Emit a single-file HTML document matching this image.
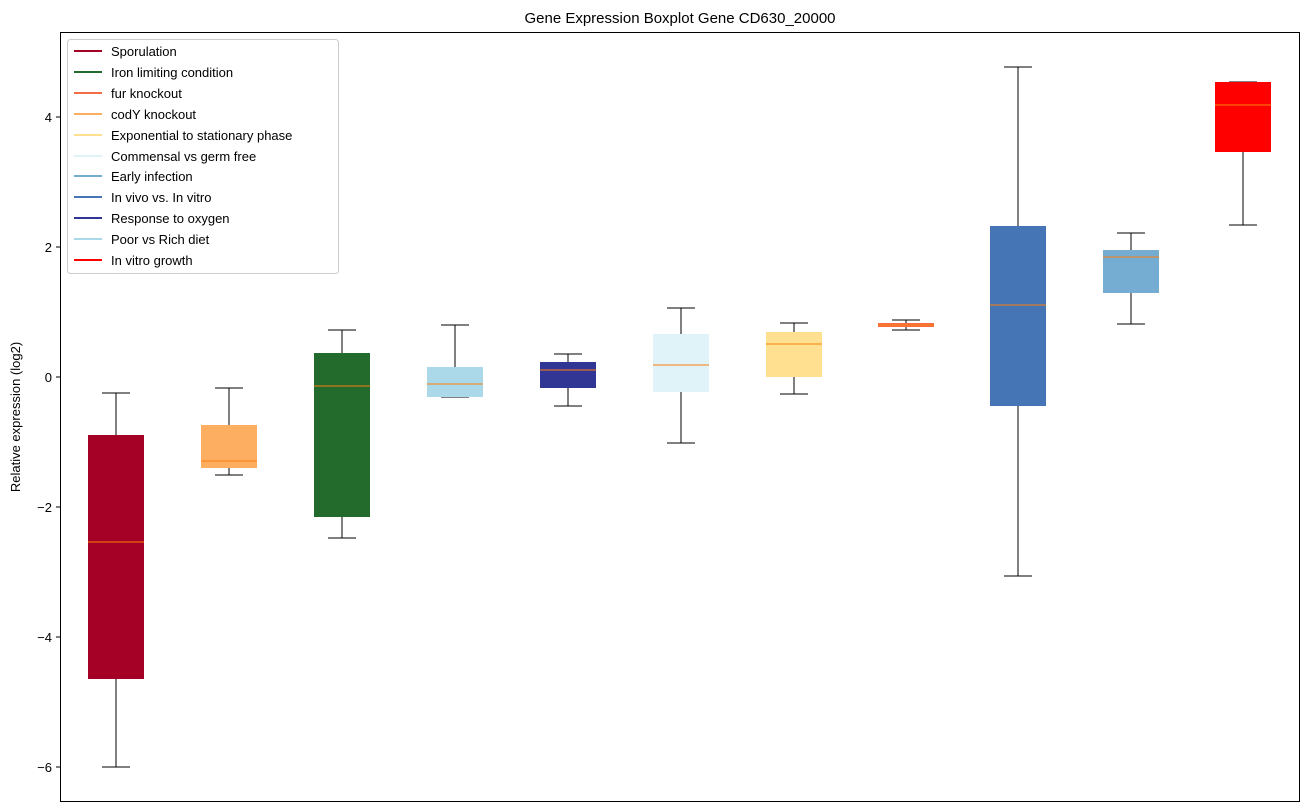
<!DOCTYPE html>
<html><head><meta charset="utf-8"><style>
body{margin:0;background:#fff;}
svg{display:block;font-family:"Liberation Sans","DejaVu Sans",sans-serif;}
</style></head><body>
<svg width="1309" height="812" viewBox="0 0 1309 812" xmlns="http://www.w3.org/2000/svg">
<rect width="1309" height="812" fill="#fff"/>
<text x="680" y="23" font-size="15" text-anchor="middle">Gene Expression Boxplot Gene CD630_20000</text>
<g stroke="#000" stroke-width="1" fill="none">
<!-- whiskers drawn per box -->
<g id="b">
<line x1="116" y1="393" x2="116" y2="435"/><line x1="116" y1="679" x2="116" y2="767"/><line x1="102" y1="393" x2="130" y2="393"/><line x1="102" y1="767" x2="130" y2="767"/>
<line x1="229" y1="388" x2="229" y2="425"/><line x1="229" y1="468" x2="229" y2="475"/><line x1="215" y1="388" x2="243" y2="388"/><line x1="215" y1="475" x2="243" y2="475"/>
<line x1="342" y1="330" x2="342" y2="353"/><line x1="342" y1="517" x2="342" y2="538"/><line x1="328" y1="330" x2="356" y2="330"/><line x1="328" y1="538" x2="356" y2="538"/>
<line x1="455" y1="325" x2="455" y2="367"/><line x1="441" y1="325" x2="469" y2="325"/><line x1="441" y1="397" x2="469" y2="397"/>
<line x1="568" y1="354" x2="568" y2="362"/><line x1="568" y1="388" x2="568" y2="406"/><line x1="554" y1="354" x2="582" y2="354"/><line x1="554" y1="406" x2="582" y2="406"/>
<line x1="681" y1="308" x2="681" y2="334"/><line x1="681" y1="392" x2="681" y2="443"/><line x1="667" y1="308" x2="695" y2="308"/><line x1="667" y1="443" x2="695" y2="443"/>
<line x1="794" y1="323" x2="794" y2="332"/><line x1="794" y1="377" x2="794" y2="394"/><line x1="780" y1="323" x2="808" y2="323"/><line x1="780" y1="394" x2="808" y2="394"/>
<line x1="906" y1="320" x2="906" y2="323"/><line x1="906" y1="327" x2="906" y2="330"/><line x1="892" y1="320" x2="920" y2="320"/><line x1="892" y1="330" x2="920" y2="330"/>
<line x1="1018" y1="67" x2="1018" y2="226"/><line x1="1018" y1="406" x2="1018" y2="576"/><line x1="1004" y1="67" x2="1032" y2="67"/><line x1="1004" y1="576" x2="1032" y2="576"/>
<line x1="1131" y1="233" x2="1131" y2="250"/><line x1="1131" y1="293" x2="1131" y2="324"/><line x1="1117" y1="233" x2="1145" y2="233"/><line x1="1117" y1="324" x2="1145" y2="324"/>
<line x1="1243" y1="152" x2="1243" y2="225"/><line x1="1229" y1="82" x2="1257" y2="82"/><line x1="1229" y1="225" x2="1257" y2="225"/>
</g>
</g>
<g>
<rect x="88" y="435" width="56" height="244" fill="#a50026"/>
<rect x="201" y="425" width="56" height="43" fill="#fdae61"/>
<rect x="314" y="353" width="56" height="164" fill="#226b2d"/>
<rect x="427" y="367" width="56" height="30" fill="#abd9e9"/>
<rect x="540" y="362" width="56" height="26" fill="#313695"/>
<rect x="653" y="334" width="56" height="58" fill="#e0f3f8"/>
<rect x="766" y="332" width="56" height="45" fill="#fee090"/>
<rect x="878" y="323" width="56" height="4" fill="#f46d43"/>
<rect x="990" y="226" width="56" height="180" fill="#4575b4"/>
<rect x="1103" y="250" width="56" height="43" fill="#74add1"/>
<rect x="1215" y="82" width="56" height="70" fill="#ff0000"/>
</g>
<g stroke="#ff7f0e" stroke-width="1">
<line x1="88" y1="542" x2="144" y2="542"/><line x1="201" y1="461" x2="257" y2="461"/>
<line x1="314" y1="386" x2="370" y2="386"/><line x1="427" y1="384" x2="483" y2="384"/>
<line x1="540" y1="370" x2="596" y2="370"/><line x1="653" y1="365" x2="709" y2="365"/>
<line x1="766" y1="344" x2="822" y2="344"/><line x1="878" y1="325" x2="934" y2="325"/>
<line x1="990" y1="305" x2="1046" y2="305"/><line x1="1103" y1="257" x2="1159" y2="257"/>
<line x1="1215" y1="105" x2="1271" y2="105"/>
</g>
<rect x="60.5" y="32.5" width="1239" height="769" fill="none" stroke="#000" stroke-width="1"/>
<g font-size="13" text-anchor="end" stroke="none">
<line x1="56" y1="117" x2="60" y2="117" stroke="#000"/><text x="52" y="122">4</text>
<line x1="56" y1="247" x2="60" y2="247" stroke="#000"/><text x="52" y="252">2</text>
<line x1="56" y1="377" x2="60" y2="377" stroke="#000"/><text x="52" y="382">0</text>
<line x1="56" y1="507" x2="60" y2="507" stroke="#000"/><text x="52" y="512">−2</text>
<line x1="56" y1="637" x2="60" y2="637" stroke="#000"/><text x="52" y="642">−4</text>
<line x1="56" y1="767" x2="60" y2="767" stroke="#000"/><text x="52" y="772">−6</text>
</g>
<text transform="translate(20,417) rotate(-90)" font-size="13" text-anchor="middle">Relative expression (log2)</text>
<rect x="67.5" y="39.5" width="271" height="234" rx="3" fill="#fff" stroke="#ccc"/>
<g font-size="13" stroke-width="2">
<line x1="74" y1="51" x2="102" y2="51" stroke="#a50026"/><text x="111" y="56">Sporulation</text>
<line x1="74" y1="72" x2="102" y2="72" stroke="#226b2d"/><text x="111" y="77">Iron limiting condition</text>
<line x1="74" y1="93" x2="102" y2="93" stroke="#f46d43"/><text x="111" y="98">fur knockout</text>
<line x1="74" y1="114" x2="102" y2="114" stroke="#fdae61"/><text x="111" y="119">codY knockout</text>
<line x1="74" y1="135" x2="102" y2="135" stroke="#fee090"/><text x="111" y="140">Exponential to stationary phase</text>
<line x1="74" y1="156" x2="102" y2="156" stroke="#e0f3f8"/><text x="111" y="161">Commensal vs germ free</text>
<line x1="74" y1="176" x2="102" y2="176" stroke="#74add1"/><text x="111" y="181">Early infection</text>
<line x1="74" y1="197" x2="102" y2="197" stroke="#4575b4"/><text x="111" y="202">In vivo vs. In vitro</text>
<line x1="74" y1="218" x2="102" y2="218" stroke="#313695"/><text x="111" y="223">Response to oxygen</text>
<line x1="74" y1="239" x2="102" y2="239" stroke="#abd9e9"/><text x="111" y="244">Poor vs Rich diet</text>
<line x1="74" y1="260" x2="102" y2="260" stroke="#ff0000"/><text x="111" y="265">In vitro growth</text>
</g>
</svg>
</body></html>
